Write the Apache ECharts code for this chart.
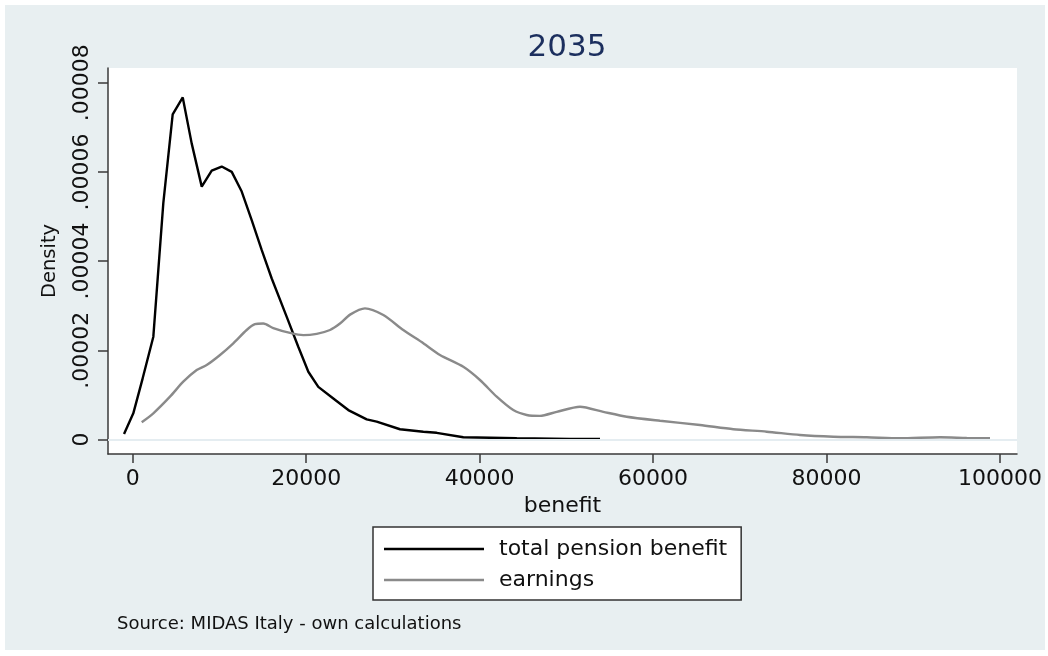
<!DOCTYPE html>
<html>
<head>
<meta charset="utf-8">
<script src="https://cdn.jsdelivr.net/npm/echarts@6/dist/echarts.min.js"></script>
<style>
html,body{margin:0;padding:0;background:#fff;}
#chart{width:1048px;height:656px;}
</style>
</head>
<body>
<div id="chart"></div>
<script>
// ---- data ----
const titleText = '2035';
const sourceText = 'Source: MIDAS Italy - own calculations';
const xName = 'benefit';
const yName = 'Density';
const seriesNames = ['total pension benefit', 'earnings'];

const xTicks = [0, 20000, 40000, 60000, 80000, 100000];
const xTickLabels = ['0', '20000', '40000', '60000', '80000', '100000'];
const yTicks = [0, 0.00002, 0.00004, 0.00006, 0.00008];
const yTickLabels = ['0', '.00002', '.00004', '.00006', '.00008'];

const pensionX = [-1000, 70, 1150, 2380, 3530, 4610, 5770, 6800, 7960, 9110, 10260, 11420, 12570, 13720, 14870, 16030, 17760, 19090, 20250, 21400, 23130, 24860, 26980, 28130, 30820, 33510, 35050, 38120, 44280, 50420, 53880];
const pensionY = [1.23e-6, 5.87e-6, 1.372e-5, 2.305e-5, 5.30e-5, 7.29e-5, 7.67e-5, 6.64e-5, 5.67e-5, 6.03e-5, 6.12e-5, 6.00e-5, 5.56e-5, 4.92e-5, 4.25e-5, 3.61e-5, 2.75e-5, 2.08e-5, 1.52e-5, 1.18e-5, 9.2e-6, 6.6e-6, 4.5e-6, 4.0e-6, 2.3e-6, 1.75e-6, 1.5e-6, 5e-7, 2.7e-7, 1e-7, 1e-7];

const earningsX = [1040, 2380, 4300, 5830, 7380, 8530, 10070, 11600, 13140, 14100, 15060, 16210, 18140, 19670, 21220, 22750, 23900, 25060, 26780, 28900, 31200, 33510, 35430, 38120, 40040, 41970, 43880, 45430, 46960, 48890, 51570, 54260, 56960, 60800, 65410, 69250, 73100, 76940, 80780, 84630, 88470, 93080, 96160, 98850];
const earningsY = [3.86e-6, 5.87e-6, 9.6e-6, 1.296e-5, 1.558e-5, 1.67e-5, 1.895e-5, 2.157e-5, 2.455e-5, 2.585e-5, 2.6e-5, 2.5e-5, 2.39e-5, 2.34e-5, 2.37e-5, 2.455e-5, 2.6e-5, 2.8e-5, 2.94e-5, 2.79e-5, 2.455e-5, 2.157e-5, 1.895e-5, 1.63e-5, 1.334e-5, 9.6e-6, 6.6e-6, 5.5e-6, 5.3e-6, 6.2e-6, 7.35e-6, 6.2e-6, 5.1e-6, 4.2e-6, 3.25e-6, 2.3e-6, 1.75e-6, 1.0e-6, 6.3e-7, 5e-7, 2.7e-7, 5e-7, 3.4e-7, 2.7e-7];

// ---- chart ----
const FONT = 'DejaVu Sans';
const zip = (xs, ys) => xs.map((x, i) => [x, ys[i]]);
function nearestLabel(v, ticks, labels) {
  let best = 0, bd = Infinity;
  ticks.forEach((t, i) => { const d = Math.abs(t - v); if (d < bd) { bd = d; best = i; } });
  return labels[best];
}

const chart = echarts.init(document.getElementById('chart'), null, {renderer: 'canvas'});
chart.setOption({
  backgroundColor: '#ffffff',
  animation: false,
  graphic: [{
    type: 'rect', left: 5, top: 5, z: -100,
    shape: {width: 1040, height: 645},
    style: {fill: '#e8eff1'}
  }],
  title: [{
    text: titleText, left: 562, top: 27, textAlign: 'center',
    textStyle: {fontFamily: FONT, fontSize: 31, fontWeight: 'normal', color: '#1c2f5e'}
  }, {
    text: sourceText, left: 112, top: 610,
    textStyle: {fontFamily: FONT, fontSize: 18, fontWeight: 'normal', color: '#111'}
  }],
  legend: {
    orient: 'vertical', left: 373, top: 527,
    data: seriesNames,
    icon: 'rect',
    backgroundColor: '#ffffff', borderColor: '#333', borderWidth: 1.5,
    padding: [11, 14, 9, 11],
    itemWidth: 100, itemHeight: 2.5, itemGap: 9,
    textStyle: {fontFamily: FONT, fontSize: 22, color: '#111', padding: [0, 0, 0, 10]}
  },
  grid: {
    left: 108, top: 68, right: 31, bottom: 202,
    show: true, backgroundColor: '#ffffff', borderWidth: 0
  },
  xAxis: {
    type: 'value', min: -2848, max: 101960,
    name: xName, nameLocation: 'middle', nameGap: 36,
    nameTextStyle: {fontFamily: FONT, fontSize: 22, color: '#111'},
    axisLine: {show: true, onZero: false, lineStyle: {color: '#3a3a3a', width: 1.5}},
    axisTick: {show: true, length: 9, customValues: xTicks, lineStyle: {color: '#3a3a3a', width: 1.5}},
    axisLabel: {customValues: xTicks, margin: 14, fontFamily: FONT, fontSize: 22, color: '#111',
      formatter: v => nearestLabel(v, xTicks, xTickLabels)},
    splitLine: {show: false}
  },
  yAxis: {
    type: 'value', min: -0.00000325, max: 0.0000833,
    name: yName, nameLocation: 'middle', nameGap: 48, nameRotate: 90,
    nameTextStyle: {fontFamily: FONT, fontSize: 19.5, color: '#111'},
    axisLine: {show: true, onZero: false, lineStyle: {color: '#3a3a3a', width: 1.5}},
    axisTick: {show: true, length: 10, customValues: yTicks, lineStyle: {color: '#3a3a3a', width: 1.5}},
    axisLabel: {customValues: yTicks, rotate: 90, margin: 15, fontFamily: FONT, fontSize: 22, color: '#111',
      formatter: v => nearestLabel(v, yTicks, yTickLabels)},
    splitLine: {show: false}
  },
  series: [{
    name: '_grid', type: 'line', data: [], z: 1, silent: true,
    markLine: {
      silent: true, symbol: 'none', label: {show: false},
      lineStyle: {color: '#e4edf0', width: 1.5, type: 'solid'},
      data: yTicks.map(v => ({yAxis: v}))
    }
  }, {
    name: seriesNames[0], type: 'line', z: 3,
    data: zip(pensionX, pensionY),
    symbol: 'none', showSymbol: false,
    lineStyle: {color: '#000000', width: 2.4},
    itemStyle: {color: '#000000'}
  }, {
    name: seriesNames[1], type: 'line', z: 3,
    data: zip(earningsX, earningsY),
    symbol: 'none', showSymbol: false, smooth: 0.25,
    lineStyle: {color: '#8a8a8a', width: 2.4},
    itemStyle: {color: '#8a8a8a'}
  }]
});
</script>
</body>
</html>
